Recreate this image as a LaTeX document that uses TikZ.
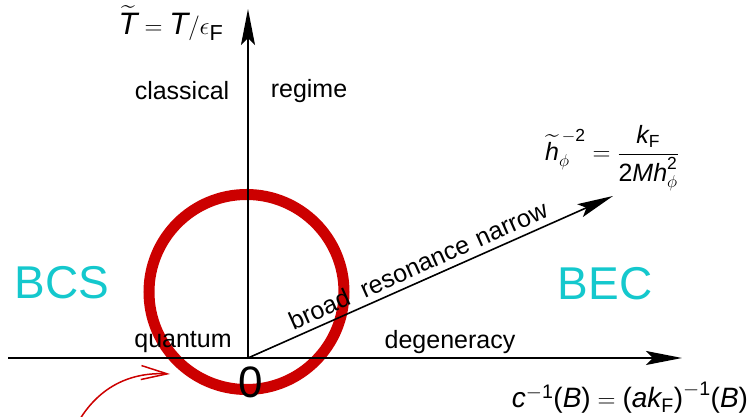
\documentclass[tikz,border=0pt]{standalone}
\usepackage{amsmath}
\usepackage{fontspec}
\setmainfont{Liberation Sans}
\usetikzlibrary{arrows.meta}
\newcommand{\si}[1]{\text{\itshape #1}}
\newcommand{\sr}[1]{\text{\upshape #1}}
\definecolor{ringred}{RGB}{204,0,0}
\definecolor{phasecyan}{RGB}{20,200,205}
\tikzset{
  axis/.style={line width=1.6pt,-{Stealth[length=36pt,width=14pt,inset=7pt]}},
  lbl/.style={font=\fontsize{25}{30}\selectfont, inner sep=0pt},
  phase/.style={font=\fontsize{46}{54}\selectfont, text=phasecyan, inner sep=0pt},
}
\begin{document}
\begin{tikzpicture}[x=1pt,y=1pt]
\useasboundingbox (0,0) rectangle (756,417);
% ring (drawn first, under everything)
\draw[ringred, line width=11pt] (246.5,125) circle[radius=97.5];
% axes
\coordinate (O) at (248,59);
\coordinate (xl) at (8,59);
\coordinate (xr) at (682,59);
\coordinate (yt) at (248,408);
\coordinate (dt) at (613,221);
\draw[axis] (xl) -- (xr);
\draw[axis] (O) -- (yt);
\draw[axis] (O) -- (dt);
% labels
\node[lbl] (cl) at (182,326) {classical};
\node[lbl] (rg) at (309,326) {regime};
\node[lbl] (qu) at (183,75) {quantum};
\node[lbl] (dg) at (450,75) {degeneracy};
\node[phase] (bcs) at (62,134) {BCS};
\node[phase] (bec) at (605,133) {BEC};
\node[font=\fontsize{44}{50}\selectfont, inner sep=0pt] (zero) at (251,35) {0};
\node[lbl, rotate=24] (res) at (418,152) {broad\hspace{14pt}resonance\hspace{9pt}narrow};
\node[lbl, font=\fontsize{31}{36}\selectfont] (tl) at (171,394) {$\widetilde{\si{T}} = \si{T}/\epsilon_{\sr{F}}$};
\node[lbl] (hl) at (612,259) {$\widetilde{\si{h}}_{\phi}^{\,-\sr{2}} = \dfrac{\si{k}_{\sr{F}}}{\sr{2}\si{Mh}_{\phi}^{\sr{2}}}$};
\node[lbl, font=\fontsize{28}{33}\selectfont] (cb) at (630,19) {$\si{c}^{-\sr{1}}\sr{(}\si{B}\sr{)} = \sr{(}\si{ak}_{\sr{F}}\sr{)}^{-\sr{1}}\sr{(}\si{B}\sr{)}$};
% red pointer
\coordinate (ps) at (80,-2);
\coordinate (pe) at (170,43);
\draw[ringred, line width=1.5pt, -{Straight Barb[length=26pt,width=14pt]}] (ps) .. controls (100,30) and (130,45) .. (pe);
\end{tikzpicture}
\end{document}
